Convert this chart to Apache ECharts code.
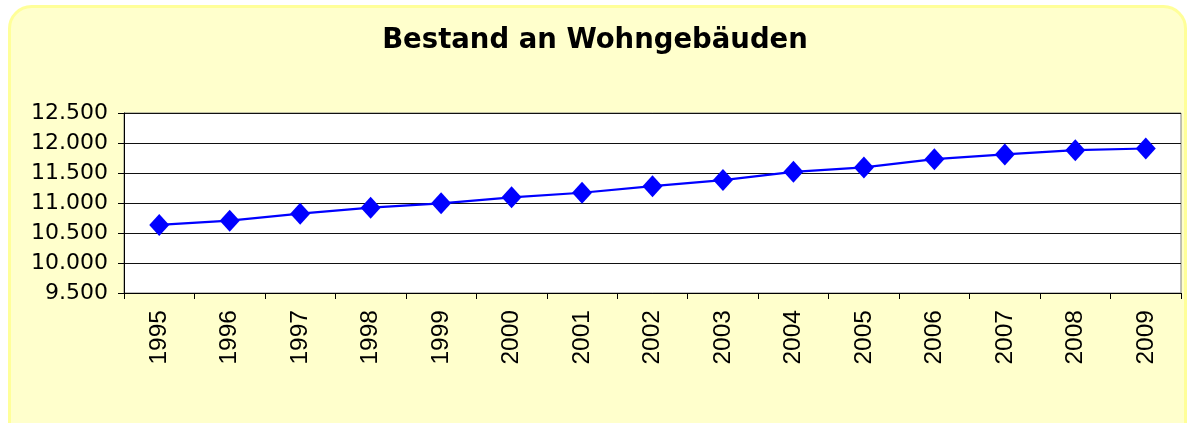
<!DOCTYPE html>
<html>
<head>
<meta charset="utf-8">
<script src="https://cdn.jsdelivr.net/npm/echarts@6/dist/echarts.min.js"></script>
<style>
html,body{margin:0;padding:0;background:#ffffff;}
#chart{width:1190px;height:423px;}
</style>
</head>
<body>
<div id="chart"></div>
<script>
var titleText = 'Bestand an Wohngebäuden';
var years = ['1995','1996','1997','1998','1999','2000','2001','2002','2003','2004','2005','2006','2007','2008','2009'];
var buildings = [10634, 10706, 10822, 10922, 10995, 11095, 11171, 11280, 11382, 11520, 11593, 11731, 11809, 11880, 11908];
var yMin = 9500, yMax = 12500, yStep = 500;

function fmt(v){
  var s = String(Math.round(v));
  return s.replace(/\B(?=(\d{3})+(?!\d))/g, '.');
}

var chart = echarts.init(document.getElementById('chart'), null, {renderer:'canvas'});
chart.setOption({
  animation: false,
  backgroundColor: '#ffffff',
  graphic: [{
    type: 'rect', z: -10, silent: true,
    shape: {x: 9.5, y: 6.5, width: 1176, height: 440, r: 22},
    style: {fill: '#FFFFCC', stroke: '#FFFF99', lineWidth: 3}
  }],
  title: {
    text: titleText,
    left: 'center',
    top: 22,
    textStyle: {fontFamily: 'DejaVu Sans', fontWeight: 'bold', fontSize: 27.5, color: '#000'}
  },
  grid: {
    left: 124, top: 113, width: 1057, height: 180,
    show: true, backgroundColor: '#ffffff', borderColor: '#808080', borderWidth: 1,
    containLabel: false
  },
  xAxis: {
    type: 'category',
    data: years,
    boundaryGap: true,
    axisLine: {show: true, lineStyle: {color: '#000', width: 1}},
    axisTick: {show: true, length: 6, inside: false, lineStyle: {color: '#000'}},
    axisLabel: {rotate: 90, margin: 17, fontFamily: 'Liberation Sans', fontSize: 24.5, color: '#000'},
    splitLine: {show: false}
  },
  yAxis: {
    type: 'value',
    min: yMin, max: yMax, interval: yStep,
    axisLine: {show: true, lineStyle: {color: '#000', width: 1}},
    axisTick: {show: true, length: 6, lineStyle: {color: '#000'}},
    axisLabel: {margin: 16, fontFamily: 'DejaVu Sans', fontSize: 22, color: '#000', formatter: fmt},
    splitLine: {show: true, lineStyle: {color: '#111', width: 1.2}}
  },
  series: [{
    type: 'line',
    data: buildings,
    symbol: 'diamond',
    symbolSize: [20, 22],
    lineStyle: {color: '#0000FF', width: 2.2},
    itemStyle: {color: '#0000FF'}
  }]
});
</script>
</body>
</html>
